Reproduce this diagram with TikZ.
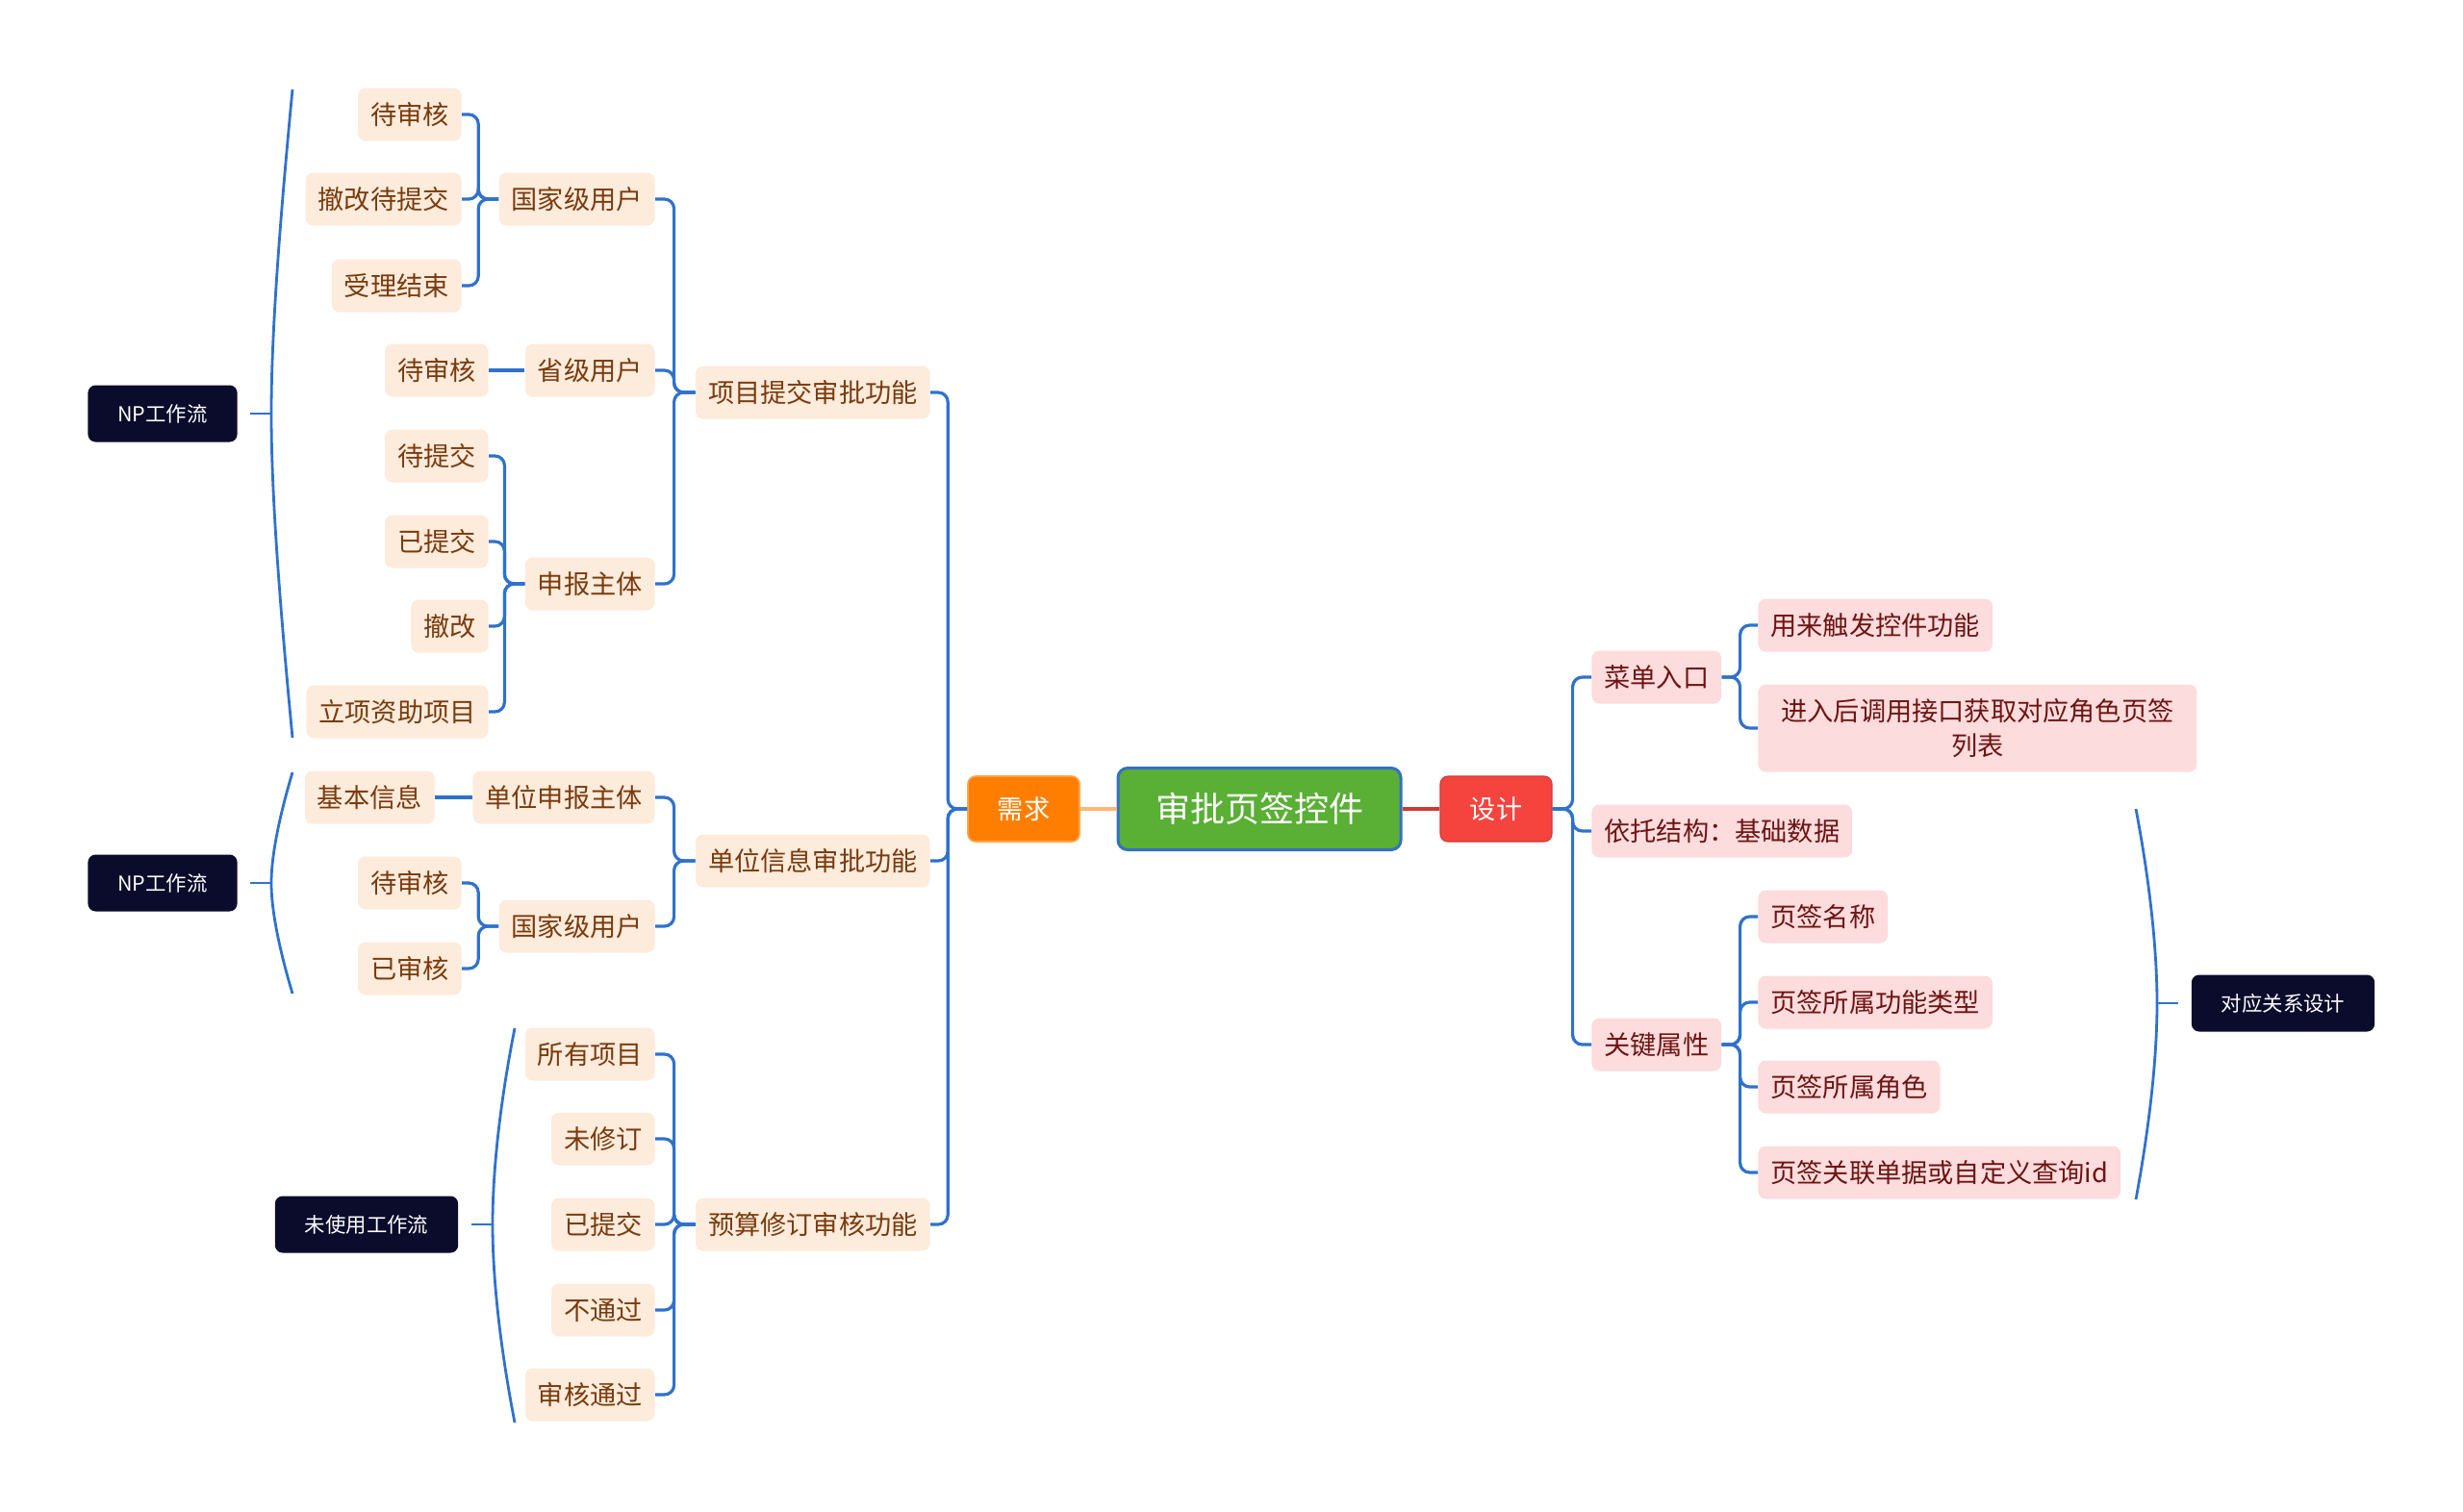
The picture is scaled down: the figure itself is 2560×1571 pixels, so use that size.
\documentclass[tikz,border=0pt]{standalone}
\usepackage{fontspec}
\newfontfamily\cjk{Noto Sans CJK SC}
\usetikzlibrary{calc}
\definecolor{peach}{HTML}{FDEBDC}
\definecolor{brownt}{HTML}{7A3B0C}
\definecolor{pinkf}{HTML}{FCDCDC}
\definecolor{redt}{HTML}{6E1414}
\definecolor{navy}{HTML}{0B0B2C}
\definecolor{lineblue}{HTML}{2F72CC}
\definecolor{rootgreen}{HTML}{5AAF35}
\definecolor{rootborder}{HTML}{3470C4}
\definecolor{xqorange}{HTML}{FF7E00}
\definecolor{sjred}{HTML}{F5443E}
\tikzset{
  lnode/.style={fill=peach, text=brownt, rounded corners=4pt, inner xsep=6.5pt, inner ysep=0pt,
    minimum height=27.5pt, font=\cjk\fontsize{13.6}{16}\selectfont},
  rnode/.style={lnode, fill=pinkf, text=redt},
  darknode/.style={fill=navy, text=white, rounded corners=4pt, inner xsep=15.5pt, inner ysep=0pt,
    minimum height=29.5pt, font=\cjk\fontsize{10.7}{13}\selectfont},
  conn/.style={draw=lineblue, line width=1.6pt, rounded corners=5pt},
  bracecurve/.style={draw=lineblue, line width=1.4pt},
}
\begin{document}
\begin{tikzpicture}[x=0.5pt,y=-0.5pt]
\useasboundingbox (0,0) rectangle (2560,1571);
% centre
\node[fill=rootgreen, draw=rootborder, line width=1.5pt, rounded corners=5pt, text=white,
  minimum width=147pt, minimum height=42.5pt, inner sep=0pt, font=\cjk\fontsize{18}{22}\selectfont]
  (root) at (1309,841) {审批页签控件};
\node[fill=xqorange, draw=xqorange!70!white, line width=0.8pt, rounded corners=4pt, text=white,
  minimum width=58pt, minimum height=34pt, inner sep=0pt, font=\cjk\fontsize{13.6}{16}\selectfont]
  (xq) at (1064,841) {需求};
\node[fill=sjred, draw=sjred!85!black, line width=0.6pt, rounded corners=4pt, text=white,
  minimum width=58pt, minimum height=34pt, inner sep=0pt, font=\cjk\fontsize{13.6}{16}\selectfont]
  (sj) at (1555,841) {设计};
\draw[draw=xqorange!55!white, line width=1.8pt] (root.west) -- (xq.east);
\draw[draw=sjred!85!black, line width=1.8pt] (root.east) -- (sj.west);

% left level 2
\node[lnode, anchor=east] (xmsp) at (967,408) {项目提交审批功能};
\node[lnode, anchor=east] (dwxx) at (967,895) {单位信息审批功能};
\node[lnode, anchor=east] (yssh) at (967,1273) {预算修订审核功能};
% level 3
\node[lnode, anchor=east] (gj1) at (681,207) {国家级用户};
\node[lnode, anchor=east] (sjyh) at (681,385) {省级用户};
\node[lnode, anchor=east] (sbzt) at (681,607) {申报主体};
\node[lnode, anchor=east] (dwsb) at (681,829) {单位申报主体};
\node[lnode, anchor=east] (gj2) at (681,963) {国家级用户};
\node[lnode, anchor=east] (e1) at (681,1096) {所有项目};
\node[lnode, anchor=east] (e2) at (681,1184) {未修订};
\node[lnode, anchor=east] (e3) at (681,1273) {已提交};
\node[lnode, anchor=east] (e4) at (681,1362) {不通过};
\node[lnode, anchor=east] (e5) at (681,1450) {审核通过};
% level 4
\node[lnode, anchor=east] (a1) at (480,119) {待审核};
\node[lnode, anchor=east] (a2) at (480,207) {撤改待提交};
\node[lnode, anchor=east] (a3) at (480,297) {受理结束};
\node[lnode, anchor=east] (b1) at (508,385) {待审核};
\node[lnode, anchor=east] (c1) at (508,474) {待提交};
\node[lnode, anchor=east] (c2) at (508,563) {已提交};
\node[lnode, anchor=east] (c3) at (508,651) {撤改};
\node[lnode, anchor=east] (c4) at (508,740) {立项资助项目};
\node[lnode, anchor=east] (jbxx) at (452,829) {基本信息};
\node[lnode, anchor=east] (d1) at (480,918) {待审核};
\node[lnode, anchor=east] (d2) at (480,1007) {已审核};
% summary nodes
\node[darknode] (np1) at (169,430) {NP工作流};
\node[darknode] (np2) at (169,918) {NP工作流};
\node[darknode] (wsy) at (381,1273) {未使用工作流};

% right side
\node[rnode, anchor=west] (cdrk) at (1654,704) {菜单入口};
\node[rnode, anchor=west] (ytjg) at (1654,864) {依托结构：基础数据};
\node[rnode, anchor=west] (gjsx) at (1654,1086) {关键属性};
\node[rnode, anchor=west] (r1) at (1827,650) {用来触发控件功能};
\node[rnode, anchor=west, align=center, text width=205pt, inner xsep=11.5pt, minimum height=45.5pt,
  font=\cjk\fontsize{13.6}{18}\selectfont] (r2) at (1827,757) {进入后调用接口获取对应角色页签\\列表};
\node[rnode, anchor=west] (k1) at (1827,953) {页签名称};
\node[rnode, anchor=west] (k2) at (1827,1042) {页签所属功能类型};
\node[rnode, anchor=west] (k3) at (1827,1130) {页签所属角色};
\node[rnode, anchor=west] (k4) at (1827,1219) {页签关联单据或自定义查询id};
\node[darknode] (dygx) at (2373,1043) {对应关系设计};

% connectors left
\foreach \c in {xmsp,dwxx,yssh}
  \draw[conn] (xq.west) -- ++(-20,0) |- (\c.east);
\foreach \c in {gj1,sjyh,sbzt}
  \draw[conn] (xmsp.west) -- ++(-22,0) |- (\c.east);
\foreach \c in {dwsb,gj2}
  \draw[conn] (dwxx.west) -- ++(-22,0) |- (\c.east);
\foreach \c in {e1,e2,e3,e4,e5}
  \draw[conn] (yssh.west) -- ++(-22,0) |- (\c.east);
\foreach \c in {a1,a2,a3}
  \draw[conn] (gj1.west) -- ++(-21,0) |- (\c.east);
\draw[conn] (sjyh.west) -- (b1.east);
\foreach \c in {c1,c2,c3,c4}
  \draw[conn] (sbzt.west) -- ++(-21,0) |- (\c.east);
\draw[conn] (dwsb.west) -- (jbxx.east);
\foreach \c in {d1,d2}
  \draw[conn] (gj2.west) -- ++(-21,0) |- (\c.east);

% connectors right
\foreach \c in {cdrk,ytjg,gjsx}
  \draw[conn] (sj.east) -- ++(21,0) |- (\c.west);
\foreach \c in {r1,r2}
  \draw[conn] (cdrk.east) -- ++(19,0) |- (\c.west);
\foreach \c in {k1,k2,k3,k4}
  \draw[conn] (gjsx.east) -- ++(19,0) |- (\c.west);

% summary braces
\coordinate (m1) at (282,430);
\draw[bracecurve] (304,93) .. controls (288,260) and (282,360) .. (m1) .. controls (282,500) and (288,600) .. (304,767);
\draw[bracecurve] (m1) -- ([xshift=6.5pt]np1.east);
\coordinate (m2) at (282,918);
\draw[bracecurve] (304,803) .. controls (290,850) and (282,890) .. (m2) .. controls (282,946) and (290,986) .. (304,1033);
\draw[bracecurve] (m2) -- ([xshift=6.5pt]np2.east);
\coordinate (m3) at (512,1273);
\draw[bracecurve] (535,1069) .. controls (519,1150) and (512,1220) .. (m3) .. controls (512,1326) and (519,1396) .. (535,1479);
\draw[bracecurve] (m3) -- ([xshift=6.5pt]wsy.east);
\coordinate (m4) at (2242,1043);
\draw[bracecurve] (2220,841) .. controls (2235,920) and (2242,990) .. (m4) .. controls (2242,1096) and (2235,1166) .. (2220,1247);
\draw[bracecurve] (m4) -- ([xshift=-6.5pt]dygx.west);
\end{tikzpicture}
\end{document}
